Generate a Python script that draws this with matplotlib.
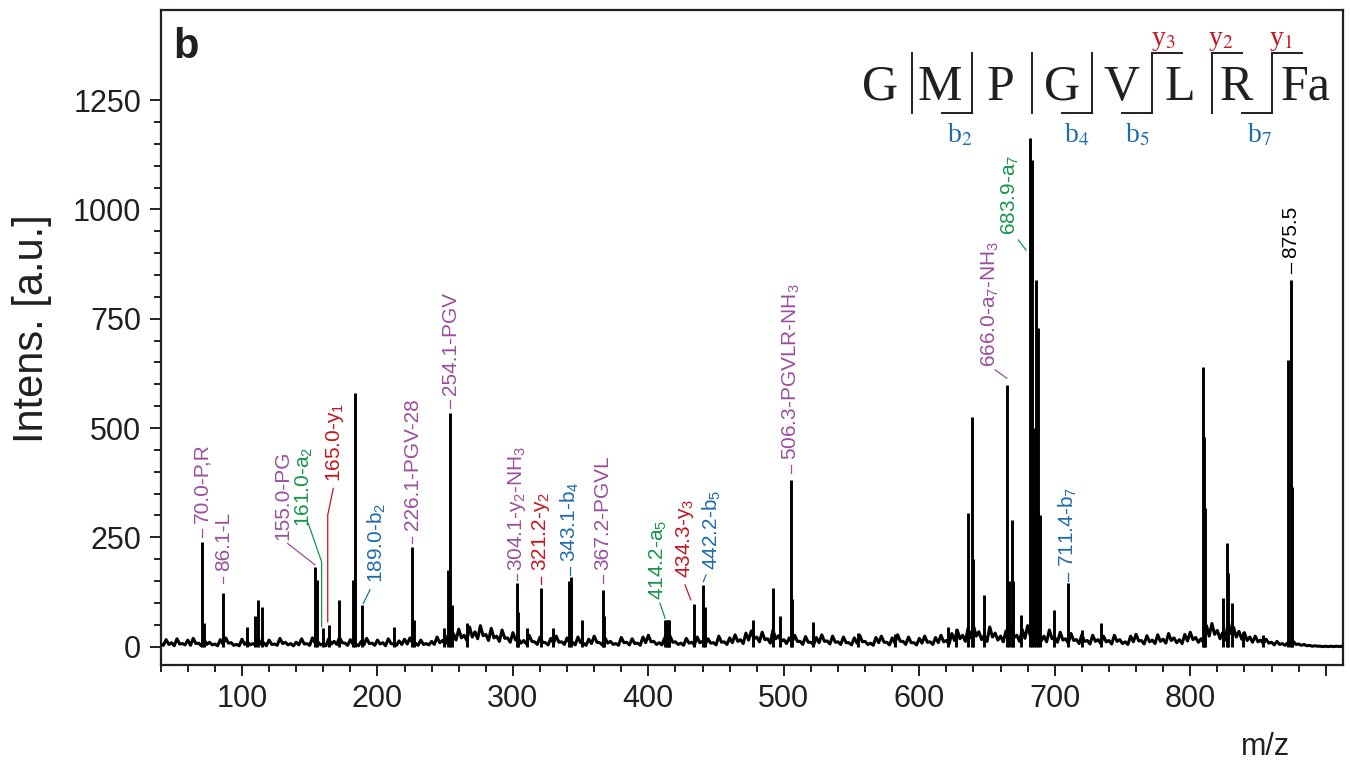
import numpy as np
import matplotlib
matplotlib.use("Agg")
import matplotlib.pyplot as plt
from matplotlib.lines import Line2D
from matplotlib.ticker import MultipleLocator, FixedLocator, FuncFormatter

plt.rcParams['font.family'] = ['Liberation Sans', 'DejaVu Sans']
plt.rcParams['mathtext.fontset'] = 'custom'
plt.rcParams['mathtext.rm'] = 'Liberation Sans'
plt.rcParams['mathtext.it'] = 'Liberation Sans:italic'

INK = '#231F20'
PUR = '#9A4F9C'
GRN = '#14964A'
RED = '#C8141E'
BLU = '#1F6CAD'

# baseline noise: local highs every 4 m/z from 40, local lows every 4 m/z from 42
noise_step = 4
noise_high = [
    6, 16, 9, 18, 7, 15, 19, 8, 17, 10, 6, 16, 20, 9, 5, 17, 11, 7, 18, 9, 15, 6, 19, 10, 7,
    10, 18, 7, 20, 11, 6, 18, 12, 21, 8, 16, 6, 12, 19, 8, 15, 9, 18, 6, 13, 17, 20, 8, 15, 7,
    12, 22, 14, 25, 30, 40, 26, 45, 34, 48, 28, 42, 24, 38, 20, 32, 18, 14, 26, 11, 22, 9, 19, 24, 11,
    20, 10, 22, 8, 17, 24, 9, 20, 12, 7, 21, 10, 18, 8, 22, 26, 12, 9, 20, 24, 11, 8, 19, 10, 22,
    12, 18, 9, 24, 11, 20, 27, 16, 31, 36, 22, 33, 18, 38, 25, 16, 20, 26, 12, 23, 10, 21, 27, 13, 24,
    11, 22, 9, 20, 26, 12, 8, 21, 24, 10, 20, 27, 12, 22, 9, 19, 24, 11, 21, 26, 14, 30, 38, 26, 42,
    48, 34, 26, 45, 31, 24, 36, 43, 26, 39, 48, 34, 28, 24, 38, 21, 33, 18, 30, 16, 27, 14, 26, 16, 24,
    14, 26, 16, 11, 24, 28, 14, 25, 15, 27, 17, 30, 20, 16, 28, 33, 21, 18, 48, 53, 37, 32, 58, 44, 35,
    32, 22, 24, 15, 17, 10, 12, 7, 9, 12, 6, 5, 3, 2, 1, 1, 1, 1, 1,
]
noise_low = [
    3, 5, 2, 6, 4, 3, 7, 2, 5, 4, 2, 6, 8, 3, 2, 5, 4, 3, 6, 2, 5, 3, 7, 4, 2,
    4, 6, 3, 8, 4, 2, 6, 5, 9, 3, 5, 2, 4, 7, 3, 6, 2, 7, 3, 5, 6, 8, 3, 5, 4,
    5, 9, 6, 11, 15, 20, 14, 22, 18, 25, 14, 20, 12, 19, 10, 15, 8, 6, 12, 5, 10, 4, 8, 10, 5,
    8, 4, 9, 3, 7, 10, 4, 8, 5, 3, 9, 4, 7, 3, 9, 11, 5, 4, 8, 10, 5, 3, 8, 4, 9,
    5, 8, 4, 10, 5, 9, 12, 7, 15, 18, 11, 16, 8, 18, 12, 7, 9, 12, 5, 10, 4, 9, 12, 6, 10,
    5, 9, 4, 8, 11, 5, 3, 9, 10, 4, 8, 12, 5, 9, 4, 8, 10, 5, 9, 11, 6, 14, 18, 12, 20,
    24, 16, 12, 22, 15, 11, 17, 21, 12, 19, 24, 16, 13, 11, 18, 10, 15, 8, 14, 7, 12, 6, 12, 7, 11,
    6, 12, 7, 5, 11, 13, 6, 11, 7, 12, 8, 14, 9, 7, 13, 16, 10, 8, 24, 28, 18, 15, 30, 22, 17,
    14, 10, 11, 7, 8, 4, 5, 3, 4, 5, 3, 2, 1, 1, 0, 0, 0, 0, 0,
]
high_mz = 40 + noise_step * np.arange(len(noise_high))
low_mz = 42 + noise_step * np.arange(len(noise_low))

# peaks (m/z, intensity)
peak_mz = [70.2, 72.0, 86.2, 103.5, 109.6, 111.6, 114.5, 153.9, 155.2, 160.0, 164.2, 171.6,
           181.7, 183.4, 188.8, 212.4, 225.7, 226.8, 249.1, 252.3, 253.6, 255.0, 265.9, 302.8,
           303.8, 310.2, 320.5, 329.8, 341.6, 342.6, 351.2, 366.3, 367.2, 412.5, 413.5, 414.5,
           415.5, 433.7, 440.6, 441.5, 477.5, 491.8, 497.2, 505.3, 506.2, 521.8, 554.8, 582.0,
           621.0, 627.0, 636.2, 638.7, 640.0, 647.8, 664.6, 666.0, 668.3, 669.5, 674.9, 681.8,
           683.3, 684.5, 686.2, 687.9, 689.0, 699.5, 709.6, 720.0, 734.0, 809.3, 810.2, 811.0,
           824.5, 827.0, 828.0, 830.8, 839.3, 853.6, 872.5, 874.2, 875.0]
peak_int = [240, 54, 122, 46, 69, 107, 91, 183, 152, 43, 50, 107,
            152, 581, 95, 46, 229, 60, 43, 175, 535, 95, 54, 146,
            80, 43, 135, 43, 150, 160, 61, 130, 70, 61, 61, 61,
            61, 98, 141, 90, 61, 134, 69, 381, 110, 57, 32, 28,
            45, 40, 306, 526, 200, 118, 598, 150, 290, 150, 72, 1163,
            1113, 500, 838, 729, 300, 84, 145, 38, 54, 640, 480, 317,
            111, 236, 168, 100, 34, 27, 655, 838, 366]

# peak annotations
label_text = ["70.0-P,R", "86.1-L", "155.0-PG", "161.0-a$_2$", "165.0-y$_1$", "189.0-b$_2$",
              "226.1-PGV-28", "254.1-PGV", "304.1-y$_2$-NH$_3$", "321.2-y$_2$", "343.1-b$_4$",
              "367.2-PGVL", "414.2-a$_5$", "434.3-y$_3$", "442.2-b$_5$", "506.3-PGVLR-NH$_3$",
              "666.0-a$_7$-NH$_3$", "683.9-a$_7$", "711.4-b$_7$", "875.5"]
label_color = [PUR, PUR, PUR, GRN, RED, BLU, PUR, PUR, PUR, RED, BLU, PUR, GRN, RED, BLU,
               PUR, PUR, GRN, BLU, 'black']
# text anchor (x, bottom) and leader line points, in data units
label_pos = [(70.2, 283), (86.2, 172), (130.5, 244), (145.8, 274), (168.7, 377), (199.4, 145),
             (225.7, 267), (253.6, 576), (302.8, 172), (320.5, 172), (342.2, 194), (366.3, 175),
             (407.3, 107), (427.1, 156), (446.8, 175), (505.3, 427), (652.2, 640), (667.0, 941),
             (709.6, 183), (874.2, 888)]
leaders = [
    [(70.2, 251), (70.2, 269)],
    [(86.2, 145), (86.2, 160)],
    [(133.7, 236), (153.9, 187)],
    [(148.9, 282), (158.8, 194), (158.8, 46)],
    [(167.4, 362), (163.3, 301), (163.3, 57)],
    [(194.5, 130), (189.6, 99)],
    [(225.7, 236), (225.7, 250)],
    [(253.6, 545), (253.6, 563)],
    [(302.8, 152), (302.8, 166)],
    [(320.5, 143), (320.5, 160)],
    [(342.2, 164), (342.2, 183)],
    [(366.3, 146), (366.3, 164)],
    [(408.6, 99), (412.3, 65)],
    [(427.1, 141), (431.3, 107)],
    [(442.6, 164), (440.6, 149)],
    [(505.3, 397), (505.3, 415)],
    [(655.9, 633), (664.6, 614)],
    [(673.1, 930), (678.8, 907)],
    [(709.6, 149), (709.6, 168)],
    [(874.2, 855), (874.2, 877)],
]

# sequence with fragment marks
seq_letters = ["G", "M", "P", "G", "V", "L", "R", "Fa"]
seq_x = [880, 940, 1000, 1061.7, 1121.7, 1180, 1236.7, 1306]
b_ions = ["b$_2$", "b$_4$", "b$_5$", "b$_7$"]
b_x = [960, 1077, 1137, 1260]
y_ions = ["y$_3$", "y$_2$", "y$_1$"]
y_x = [1163, 1221, 1281]
# bracket segments in pixels (x0, y0, x1, y1)
brackets = [
    (911.7, 53, 911.7, 113),
    (941.7, 113, 971.7, 113), (971.7, 113, 971.7, 53),
    (1031.7, 53, 1031.7, 113),
    (1061.7, 113, 1091.7, 113), (1091.7, 113, 1091.7, 53),
    (1121.7, 113, 1151.7, 113), (1151.7, 113, 1151.7, 53), (1151.7, 53, 1181.7, 53),
    (1211.7, 113, 1211.7, 53), (1211.7, 53, 1241.7, 53),
    (1241.7, 113, 1271.7, 113), (1271.7, 113, 1271.7, 53), (1271.7, 53, 1301.7, 53),
]

W, H = 1350, 763


def fx(x):
    return x / W


def fy(y):
    return 1 - y / H


fig = plt.figure(figsize=(13.5, 7.63), dpi=100)
ax = fig.add_axes([fx(160.7), fy(665), fx(1343.3) - fx(160.7), fy(10) - fy(665)])

base_mz = np.concatenate([high_mz, low_mz])
base_int = np.concatenate([noise_high, noise_low])
order = np.argsort(base_mz)
ax.plot(base_mz[order], base_int[order], color='black', lw=2.2, zorder=3)
ax.vlines(peak_mz, 0, peak_int, color='black', lw=2.1, zorder=3)

for txt, col, (tx, ty), pts in zip(label_text, label_color, label_pos, leaders):
    xs = [p[0] for p in pts]
    ys = [p[1] for p in pts]
    ax.plot(xs, ys, color=col, lw=0.9, zorder=2)
    ax.text(tx, ty, txt, color=col, fontsize=15, rotation=90, ha='center', va='bottom')

ax.set_xlim(40, 913)
ax.set_ylim(-42, 1456)
ax.xaxis.set_major_locator(MultipleLocator(100))
ax.xaxis.set_minor_locator(MultipleLocator(20))
ax.xaxis.set_major_formatter(FuncFormatter(lambda v, p: '' if v > 850 else '%d' % v))
ax.yaxis.set_major_locator(FixedLocator([0, 250, 500, 750, 1000, 1250]))
ax.yaxis.set_minor_locator(FixedLocator(list(range(0, 1251, 50))))
ax.tick_params(which='both', direction='out', width=1.4, color=INK, labelcolor=INK,
               labelsize=22, top=False, right=False)
ax.tick_params(which='major', length=8, pad=6)
ax.tick_params(which='minor', length=5)
for sp in ax.spines.values():
    sp.set_linewidth(1.6)
    sp.set_color(INK)

fig.text(fx(32), fy(329), "Intens. [a.u.]", rotation=90, fontsize=30, color=INK,
         ha='center', va='center')
fig.text(fx(1266), fy(747), "m/z", fontsize=22, color=INK, ha='center', va='center')
fig.text(fx(173), fy(58), "b", fontsize=30, fontweight='bold', color=INK,
         ha='left', va='baseline')

for s, x in zip(seq_letters, seq_x):
    fig.text(fx(x), fy(100), s, fontsize=36, family='Liberation Serif', color=INK,
             ha='center', va='baseline')
for s, x in zip(b_ions, b_x):
    fig.text(fx(x), fy(142), s, fontsize=20, family='Liberation Serif', math_fontfamily='stix',
             color=BLU, ha='center', va='baseline')
for s, x in zip(y_ions, y_x):
    fig.text(fx(x), fy(45), s, fontsize=20, family='Liberation Serif', math_fontfamily='stix',
             color=RED, ha='center', va='baseline')
for x0, y0, x1, y1 in brackets:
    fig.add_artist(Line2D([fx(x0), fx(x1)], [fy(y0), fy(y1)], color=INK, lw=1.4))

fig.savefig("out.png", dpi=100)
